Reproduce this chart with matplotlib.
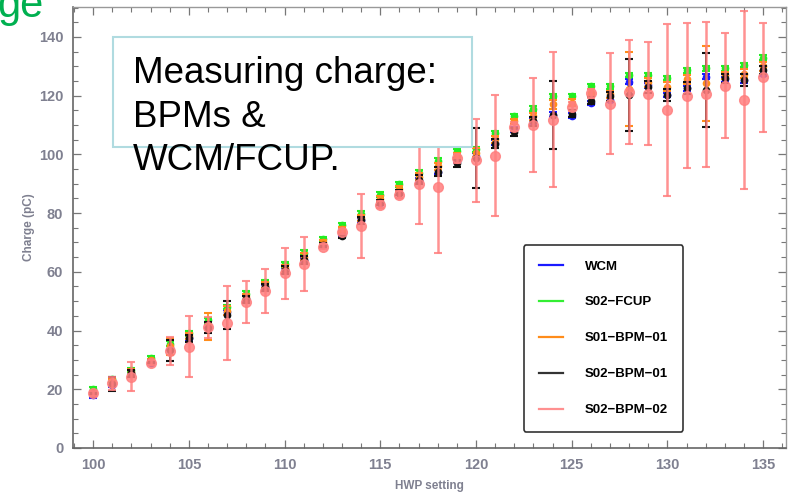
import matplotlib.pyplot as plt
from matplotlib.lines import Line2D
from matplotlib.patches import Rectangle

plt.rcParams['font.family'] = ['Liberation Sans', 'DejaVu Sans']

hwp = list(range(100, 136))

wcm = [17.9, 21.5, 25.3, 29.0, 34.0, 37.6, 41.5, 46.2, 50.8, 54.8, 60.5, 64.0,
       69.0, 73.0, 77.5, 83.5, 86.8, 91.0, 94.0, 97.8, 99.5, 104.0, 108.5, 111.2,
       113.5, 113.2, 117.5, 118.5, 124.8, 123.5, 120.2, 122.5, 126.5, 125.5, 125.2, 127.5]
wcm_err = [0.8] * 36

fcup = [20.0, 23.4, 26.6, 30.5, 35.5, 39.0, 43.5, 48.0, 52.5, 56.5, 62.6, 66.5,
        71.2, 75.8, 79.8, 86.3, 89.8, 93.8, 97.8, 101.0, 101.7, 107.2, 113.0, 115.6,
        119.8, 119.8, 123.2, 123.2, 127.0, 127.0, 126.0, 128.6, 129.3, 129.3, 130.4, 132.9]
fcup_err = [0.8] * 36

bpm_s01 = [19.0, 22.6, 25.9, 29.8, 34.6, 38.2, 41.4, 46.8, 51.5, 55.5, 61.2, 65.2,
           70.0, 74.5, 78.2, 84.8, 88.2, 92.3, 96.0, 99.5, 100.5, 105.2, 111.2, 113.0,
           117.0, 117.5, 121.0, 120.5, 122.2, 124.5, 123.0, 125.5, 124.2, 127.0, 127.5, 130.0]
bpm_s01_err = [0.5, 1.0, 1.0, 0.6, 3.0, 1.0, 4.6, 1.5, 1.0, 1.0, 1.2, 1.2,
               0.8, 0.8, 1.0, 1.0, 1.0, 1.2, 1.2, 1.0, 1.5, 1.2, 1.0, 1.2,
               1.5, 1.2, 1.2, 1.2, 12.5, 1.5, 1.5, 1.5, 12.8, 1.2, 1.5, 1.5]

bpm01 = [18.6, 21.8, 25.5, 29.4, 33.3, 37.4, 41.0, 45.3, 50.7, 54.8, 60.6, 64.0,
         69.1, 72.2, 77.6, 83.6, 87.0, 91.3, 94.1, 97.0, 98.6, 103.6, 107.6, 111.3,
         113.4, 113.8, 118.2, 119.7, 120.2, 122.9, 120.2, 122.5, 122.0, 125.9, 125.3, 128.7]
bpm01_err = [0.5, 2.3, 1.2, 0.6, 3.6, 1.2, 2.0, 4.9, 1.2, 1.2, 1.5, 1.5,
             0.8, 0.8, 1.2, 1.0, 1.0, 1.5, 1.5, 1.2, 10.2, 1.5, 1.2, 1.5,
             11.7, 1.2, 1.2, 1.5, 12.3, 2.0, 2.0, 2.0, 12.6, 1.5, 2.0, 1.5]

bpm02 = [18.6, 22.0, 24.3, 29.1, 33.0, 34.5, 41.1, 42.5, 49.8, 53.5, 59.5, 62.6,
         68.6, 73.7, 75.7, 82.8, 86.2, 90.0, 89.0, 98.7, 98.0, 99.6, 109.4, 110.0,
         111.8, 116.2, 120.8, 117.3, 121.3, 120.7, 115.1, 120.0, 120.4, 123.4, 118.6, 126.2]
bpm02_err = [0.8, 2.2, 5.0, 0.8, 4.8, 10.3, 3.5, 12.7, 7.2, 7.6, 8.6, 9.1,
             1.0, 1.0, 10.9, 1.2, 1.2, 13.8, 22.5, 1.5, 14.2, 20.6, 1.5, 16.0,
             23.0, 1.5, 1.5, 17.2, 17.7, 17.5, 29.3, 24.7, 24.8, 17.9, 30.3, 18.5]

names = ['WCM', 'S02\u2212FCUP', 'S01\u2212BPM\u221201', 'S02\u2212BPM\u221201', 'S02\u2212BPM\u221202']
colors = ['#1a1aff', '#22ee22', '#ff8c1a', '#111111', '#ff7f7f']
legend_colors = ['#1a1aff', '#33ee33', '#ff8c1a', '#333333', '#ff9090']

fig = plt.figure(figsize=(7.94, 4.95), dpi=100)
ax = fig.add_axes([0.092, 0.095, 0.898, 0.891])

series = [(wcm, wcm_err), (fcup, fcup_err), (bpm_s01, bpm_s01_err),
          (bpm01, bpm01_err), (bpm02, bpm02_err)]
for i, (vals, errs) in enumerate(series):
    last = i == len(series) - 1
    ax.errorbar(hwp, vals, yerr=errs, fmt='o', color=colors[i],
                ms=7 if last else 4.5, elinewidth=1.8 if last else 1.2,
                capsize=2.7, capthick=1.5, alpha=0.85 if last else 1.0, zorder=3 + i)

ax.set_xlim(98.95, 136.2)
ax.set_ylim(0, 150.2)
ax.set_xticks(range(100, 136, 5))
ax.set_xticks(range(99, 137), minor=True)
ax.set_yticks(range(0, 141, 20))
ax.set_yticks(range(0, 151, 5), minor=True)

tick_col = '#7f8090'
ax.tick_params(which='both', direction='in', top=True, right=True,
               colors='#777777', labelcolor=tick_col)
ax.tick_params(which='major', length=6, width=0.9, labelsize=10.5, pad=7)
ax.tick_params(which='minor', length=3.5, width=0.8)
for lab in ax.get_xticklabels() + ax.get_yticklabels():
    lab.set_fontweight('bold')

for side in ['left', 'bottom']:
    ax.spines[side].set_color('#666666')
    ax.spines[side].set_linewidth(1.2)
for side in ['top', 'right']:
    ax.spines[side].set_color('#999999')
    ax.spines[side].set_linewidth(1.0)

ax.set_xlabel('HWP setting', fontsize=8.5, fontweight='bold', color=tick_col, labelpad=6)
ax.set_ylabel('Charge (pC)', fontsize=8.5, fontweight='bold', color=tick_col, labelpad=3)

handles = [Line2D([], [], color=c, lw=1.6) for c in legend_colors]
leg = ax.legend(handles, names, loc='upper left', bbox_to_anchor=(0.632, 0.46),
                prop={'weight': 'bold', 'size': 9.5}, handlelength=1.8,
                handletextpad=1.7, labelspacing=1.8, borderpad=1.15,
                borderaxespad=0, fancybox=True, framealpha=1.0, edgecolor='#333333')
leg.get_frame().set_linewidth(1.2)
leg.set_zorder(20)

# white note box over the top-left of the plot
box = Rectangle((113 / 794, 1 - 147 / 495), (472 - 113) / 794, (147 - 37) / 495,
                transform=fig.transFigure, facecolor='white', edgecolor='#b0dbe0',
                lw=1.5, zorder=30)
fig.patches.append(box)
fig.text(133 / 794, 1 - 56 / 495, 'Measuring charge:\nBPMs &\nWCM/FCUP.',
         fontsize=26.5, va='top', ha='left', color='black', linespacing=1.32, zorder=31)

fig.text(-0.003, 1 - 17 / 495, 'ge', fontsize=30, color='#00b050',
         va='baseline', ha='left')

fig.savefig('out.png', dpi=100)
